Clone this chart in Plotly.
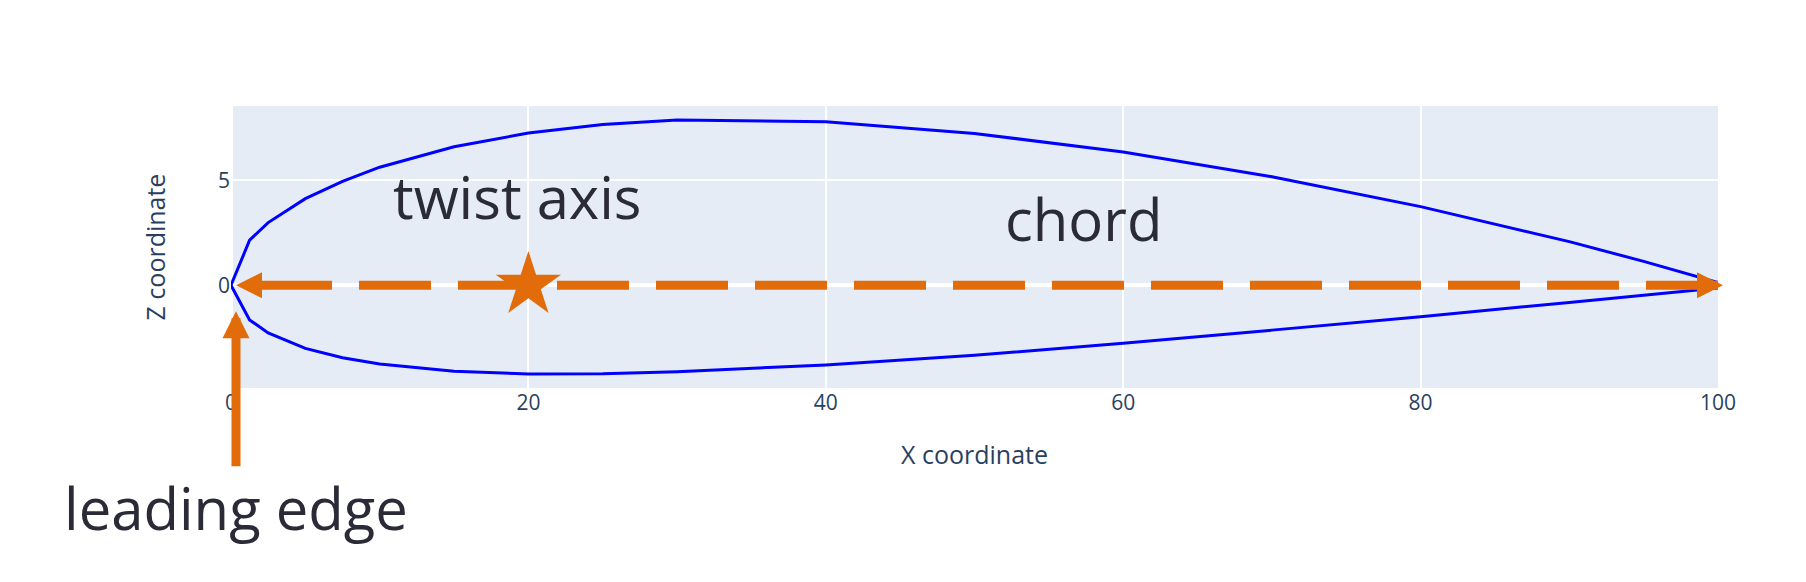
import plotly.graph_objects as go

orange = '#E36C0A'
ink = '#2b2b38'

# section outline, percent of chord
x_upper = [100, 95, 90, 80, 70, 60, 50, 40, 30, 25, 20, 15, 10, 7.5, 5, 2.5, 1.25, 0]
z_upper = [0.13, 1.14, 2.08, 3.75, 5.18, 6.36, 7.24, 7.80, 7.88, 7.67, 7.26, 6.61, 5.63, 4.96, 4.13, 2.99, 2.15, 0]
x_lower = [1.25, 2.5, 5, 7.5, 10, 15, 20, 25, 30, 40, 50, 60, 70, 80, 90, 95, 100]
z_lower = [-1.65, -2.27, -3.01, -3.46, -3.75, -4.10, -4.23, -4.22, -4.12, -3.80, -3.34, -2.76, -2.14, -1.50, -0.82, -0.48, -0.13]

chord_x = [100, 2]
chord_z = [0, 0]
twist_x = [20]
twist_z = [0]

fig = go.Figure()
fig.add_trace(go.Scatter(
	x=x_upper + x_lower, y=z_upper + z_lower,
	mode='lines', line=dict(color='blue', width=3)))
fig.add_trace(go.Scatter(
	x=chord_x, y=chord_z,
	mode='lines', line=dict(color=orange, width=9, dash='72px,27px')))
fig.add_trace(go.Scatter(
	x=twist_x, y=twist_z,
	mode='markers', marker=dict(symbol='star', size=49, color=orange)))

# arrow heads on the chord line
for x, ax in [(0, 20), (100, -20)]:
	fig.add_annotation(
		x=x, y=0, xshift=5, ax=ax, ay=0, text='',
		showarrow=True, arrowhead=2, arrowsize=5.2, arrowwidth=1, arrowcolor=orange)

fig.add_annotation(
	x=0, y=0, xshift=5, ax=0, ay=222, standoff=26, text='leading edge',
	showarrow=True, arrowhead=2, arrowsize=0.6, arrowwidth=9, arrowcolor=orange,
	font=dict(size=58, color=ink))
fig.add_annotation(x=19.3, y=4.25, text='twist axis', showarrow=False,
	font=dict(size=58, color=ink))
fig.add_annotation(x=57.3, y=3.18, text='chord', showarrow=False,
	font=dict(size=58, color=ink))

fig.update_layout(
	width=1806, height=582,
	margin=dict(l=223, r=96, t=98, b=202),
	showlegend=False,
	font=dict(size=21))
fig.update_xaxes(title=dict(text='X coordinate', font=dict(size=25), standoff=31),
	range=[0, 100], dtick=20, gridwidth=1.75, zerolinewidth=3.5)
fig.update_yaxes(title=dict(text='Z coordinate', font=dict(size=25), standoff=45),
	range=[-4.9, 8.55], dtick=5, gridwidth=1.75, zerolinewidth=3.5)

fig.write_html('out.html')
